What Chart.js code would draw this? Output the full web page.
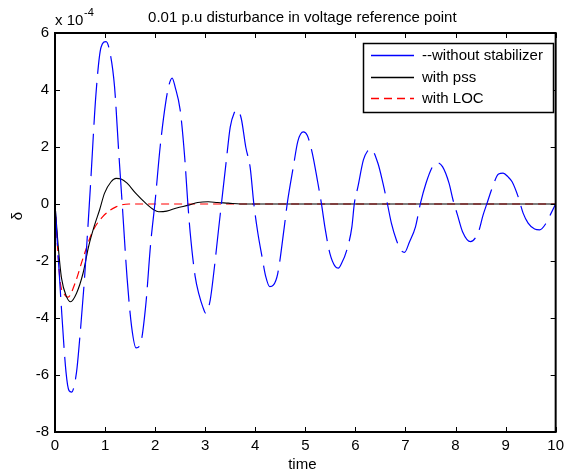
<!DOCTYPE html>
<html>
<head>
<meta charset="utf-8">
<script src="https://cdn.jsdelivr.net/npm/chart.js@4.4.0/dist/chart.umd.min.js"></script>
<style>
  html, body { margin: 0; padding: 0; background: #fff; }
  #wrap { width: 569px; height: 474px; }
</style>
</head>
<body>
<div id="wrap"><canvas id="chart" width="569" height="474"></canvas></div>
<script>
// values are in units of 1e-4 (axis shows "x 10^-4")
const xTicks = [0, 1, 2, 3, 4, 5, 6, 7, 8, 9, 10];
const yTicks = [-8, -6, -4, -2, 0, 2, 4, 6];

const seriesLabels = ['--without stabilizer', 'with pss', 'with LOC'];
const seriesColors = ['#0000ff', '#000000', '#ff0000'];

// without stabilizer
const noStabT = [0, 0.13, 0.22, 0.28, 0.33, 0.43, 0.49, 0.59, 0.70, 0.82, 0.92, 1.02, 1.10, 1.19, 1.27, 1.35,
  1.44, 1.53, 1.62, 1.70, 1.81, 1.91, 2.00, 2.10, 2.21, 2.28, 2.34, 2.40, 2.50, 2.59, 2.65, 2.70, 2.80, 2.88,
  2.95, 3.01, 3.10, 3.17, 3.26, 3.33, 3.42, 3.50, 3.58, 3.63, 3.72, 3.81, 3.90, 3.97, 4.05, 4.13, 4.21, 4.29,
  4.36, 4.45, 4.58, 4.64, 4.76, 4.85, 4.96, 5.04, 5.14, 5.24, 5.32, 5.40, 5.49, 5.60, 5.66, 5.72, 5.83, 5.93,
  5.98, 6.05, 6.16, 6.24, 6.31, 6.45, 6.55, 6.64, 6.72, 6.82, 6.91, 6.98, 7.08, 7.20, 7.30, 7.41, 7.54, 7.63,
  7.74, 7.87, 7.95, 8.04, 8.14, 8.30, 8.46, 8.55, 8.63, 8.73, 8.86, 8.95, 9.05, 9.13, 9.25, 9.35, 9.45, 9.58,
  9.68, 9.81, 9.91, 10.0];
const noStabV = [0, -3.7, -5.9, -6.55, -6.6, -5.9, -4.8, -2.6, 0.4, 3.9, 5.5, 5.7, 5.3, 4.1, 1.9, -0.2,
  -2.6, -4.3, -5.05, -4.95, -3.6, -1.4, 0.1, 2.0, 3.55, 4.2, 4.42, 4.1, 3.3, 1.65, 0.1, -1.0, -2.55, -3.2,
  -3.6, -3.83, -3.37, -2.43, -1.0, 0.1, 1.5, 2.7, 3.2, 3.3, 3.0, 2.0, 1.26, 0.03, -1.0, -1.8, -2.55, -2.9,
  -2.85, -2.43, -0.8, 0.03, 1.3, 2.2, 2.53, 2.4, 1.78, 0.84, 0.03, -0.91, -1.73, -2.2, -2.25, -2.1, -1.61, -0.8,
  0.03, 0.6, 1.55, 1.85, 1.93, 1.43, 0.73, 0.0, -0.68, -1.27, -1.62, -1.7, -1.33, -0.8, 0.03, 0.73, 1.31, 1.45,
  1.31, 0.73, 0.14, -0.39, -0.97, -1.32, -0.97, -0.39, 0.03, 0.55, 1.05, 1.08, 0.95, 0.78, 0.26, -0.32, -0.67, -0.88,
  -0.91, -0.67, -0.32, 0.0];

// with pss
const pssT = [0, 0.07, 0.13, 0.23, 0.31, 0.43, 0.56, 0.67, 0.79, 0.89, 0.99, 1.12, 1.22, 1.32, 1.44, 1.61,
  1.81, 1.98, 2.07, 2.23, 2.43, 2.67, 2.85, 3.06, 3.25, 3.46, 3.70, 10.0];
const pssV = [0, -1.6, -2.6, -3.25, -3.43, -3.13, -2.43, -1.5, -0.74, -0.21, 0.38, 0.78, 0.9, 0.88, 0.73, 0.38,
  0.03, -0.21, -0.27, -0.25, -0.14, -0.04, 0.05, 0.08, 0.05, 0.03, 0, 0];

// with LOC
const locT = [0, 0.10, 0.20, 0.26, 0.40, 0.56, 0.75, 0.95, 1.22, 1.48, 10.0];
const locV = [0, -2.67, -3.2, -3.27, -2.78, -1.9, -0.97, -0.45, -0.1, 0, 0];

const FONT = '"Liberation Sans", Arial, Helvetica, sans-serif';

function pts(ts, vs) {
    return ts.map((t, i) => ({ x: t, y: vs[i] }));
}

// MATLAB-like frame, inward ticks, texts and boxed legend
const matlabFrame = {
    id: 'matlabFrame',
    afterDraw(chart) {
        const ctx = chart.ctx;
        const a = chart.chartArea;
        const xs = chart.scales.x;
        const ys = chart.scales.y;
        ctx.save();
        ctx.strokeStyle = '#000';
        ctx.lineWidth = 1;
        ctx.beginPath();
        xTicks.forEach(v => {
            const px = Math.round(xs.getPixelForValue(v)) + 0.5;
            ctx.moveTo(px, a.bottom); ctx.lineTo(px, a.bottom - 5);
            ctx.moveTo(px, a.top); ctx.lineTo(px, a.top + 5);
        });
        yTicks.forEach(v => {
            const py = Math.round(ys.getPixelForValue(v)) + 0.5;
            ctx.moveTo(a.left, py); ctx.lineTo(a.left + 5, py);
            ctx.moveTo(a.right, py); ctx.lineTo(a.right - 5, py);
        });
        ctx.stroke();
        ctx.lineWidth = 2;
        ctx.strokeRect(a.left, a.top, a.right - a.left, a.bottom - a.top);

        // texts
        ctx.fillStyle = '#000';
        ctx.font = '15px ' + FONT;
        ctx.textAlign = 'center';
        ctx.textBaseline = 'middle';
        ctx.fillText('0.01 p.u disturbance in voltage reference point', (a.left + a.right) / 2 - 3, 18);
        ctx.fillText('time', (a.left + a.right) / 2 - 3, 465);

        ctx.textAlign = 'left';
        ctx.fillText('x 10', 55, 21);
        ctx.font = '11px ' + FONT;
        ctx.fillText('-4', 84, 13);

        ctx.save();
        ctx.translate(18, 216);
        ctx.rotate(-Math.PI / 2);
        ctx.font = '15px ' + FONT;
        ctx.textAlign = 'center';
        ctx.fillText('\u03b4', 0, 0);
        ctx.restore();

        // legend
        const lx = 363, ly = 43, lw = 190, lh = 69;
        ctx.fillStyle = '#fff';
        ctx.fillRect(lx, ly, lw, lh);
        ctx.lineWidth = 1.5;
        ctx.strokeStyle = '#000';
        ctx.strokeRect(lx + 0.5, ly + 0.5, lw, lh);
        const rows = [55, 77, 98];
        seriesLabels.forEach((label, i) => {
            ctx.strokeStyle = seriesColors[i];
            ctx.lineWidth = 1.3;
            ctx.setLineDash(i === 2 ? [8, 5] : []);
            ctx.beginPath();
            ctx.moveTo(371, rows[i] + 0.5);
            ctx.lineTo(414, rows[i] + 0.5);
            ctx.stroke();
            ctx.setLineDash([]);
            ctx.fillStyle = '#000';
            ctx.font = '15px ' + FONT;
            ctx.textAlign = 'left';
            ctx.fillText(label, 422, rows[i] + 1);
        });
        ctx.restore();
    }
};

new Chart(document.getElementById('chart'), {
    type: 'line',
    data: {
        datasets: [
            {
                label: seriesLabels[0],
                data: pts(noStabT, noStabV),
                borderColor: seriesColors[0],
                borderWidth: 1.2,
                borderDash: [42, 9],
                pointRadius: 0,
                cubicInterpolationMode: 'monotone'
            },
            {
                label: seriesLabels[1],
                data: pts(pssT, pssV),
                borderColor: seriesColors[1],
                borderWidth: 1.1,
                pointRadius: 0,
                cubicInterpolationMode: 'monotone'
            },
            {
                label: seriesLabels[2],
                data: pts(locT, locV),
                borderColor: seriesColors[2],
                borderWidth: 1.2,
                borderDash: [8, 5],
                pointRadius: 0,
                cubicInterpolationMode: 'monotone'
            }
        ]
    },
    options: {
        responsive: false,
        devicePixelRatio: 1,
        animation: false,
        layout: { padding: { top: 33, right: 8, left: 0, bottom: 0 } },
        plugins: {
            legend: { display: false },
            tooltip: { enabled: false },
            title: { display: false }
        },
        scales: {
            x: {
                type: 'linear',
                min: 0,
                max: 10,
                afterFit: s => { s.height = 42; },
                afterBuildTicks: s => { s.ticks = xTicks.map(v => ({ value: v })); },
                ticks: { color: '#000', font: { family: FONT, size: 15 }, padding: 5, maxRotation: 0 },
                grid: { display: false, drawTicks: false },
                border: { display: false }
            },
            y: {
                type: 'linear',
                min: -8,
                max: 6,
                afterFit: s => { s.width = 55; },
                afterBuildTicks: s => { s.ticks = yTicks.map(v => ({ value: v })); },
                ticks: { color: '#000', font: { family: FONT, size: 15 }, padding: 6 },
                grid: { display: false, drawTicks: false },
                border: { display: false }
            }
        }
    },
    plugins: [matlabFrame]
});
</script>
</body>
</html>
